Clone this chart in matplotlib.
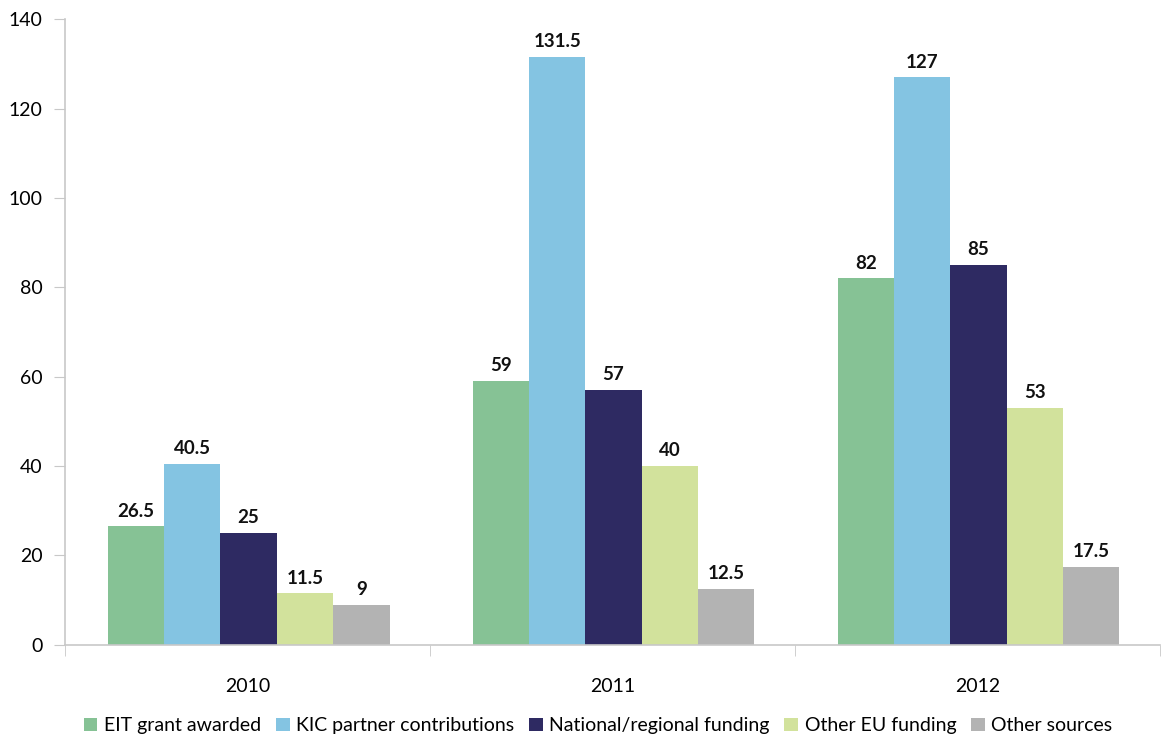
import numpy as np
import matplotlib.pyplot as plt
from matplotlib.ticker import FixedLocator

plt.rcParams['font.family'] = ['Lato', 'DejaVu Sans']

years = ['2010', '2011', '2012']
series = ['EIT grant awarded', 'KIC partner contributions', 'National/regional funding',
          'Other EU funding', 'Other sources']
eit = [26.5, 59, 82]
kic = [40.5, 131.5, 127]
national = [25, 57, 85]
other_eu = [11.5, 40, 53]
other_src = [9, 12.5, 17.5]
colors = ['#86c295', '#84c4e2', '#2e2a62', '#d2e29c', '#b3b3b3']

fig = plt.figure(figsize=(11.61, 7.36), dpi=100)
ax = fig.add_axes([0.056, 0.124, 0.943, 0.850])

x = np.arange(len(years))
w = 0.1545
for i, (name, vals) in enumerate(zip(series, [eit, kic, national, other_eu, other_src])):
    pos = x + (i - 2) * w + 0.003
    bars = ax.bar(pos, vals, w, color=colors[i], label=name)
    for b, v in zip(bars, vals):
        ax.text(b.get_x() + b.get_width() / 2, v + 1.5, f'{v:g}', ha='center', va='bottom',
                fontsize=13.5, fontweight='bold', color='#111111')

ax.set_xlim(-0.5, 2.5)
ax.set_ylim(0, 140)
ax.set_yticks(range(0, 141, 20))
ax.set_xticks(x)
ax.set_xticklabels(years)
ax.xaxis.set_minor_locator(FixedLocator([-0.5, 0.5, 1.5, 2.5]))
ax.tick_params(axis='x', which='major', length=0, pad=24, labelsize=14)
ax.tick_params(axis='x', which='minor', length=8, color='#c8c8c8', direction='out')
ax.tick_params(axis='y', length=8, color='#c8c8c8', labelsize=14, pad=8)

for s in ['top', 'right']:
    ax.spines[s].set_visible(False)
for s in ['left', 'bottom']:
    ax.spines[s].set_color('#c8c8c8')
    ax.spines[s].set_linewidth(1.2)

ax.legend(loc='upper center', bbox_to_anchor=(0.487, -0.088), ncol=5, frameon=False,
          fontsize=14, handlelength=0.7, handleheight=0.7, handletextpad=0.35,
          columnspacing=0.75)

fig.savefig('out.png', dpi=100)
